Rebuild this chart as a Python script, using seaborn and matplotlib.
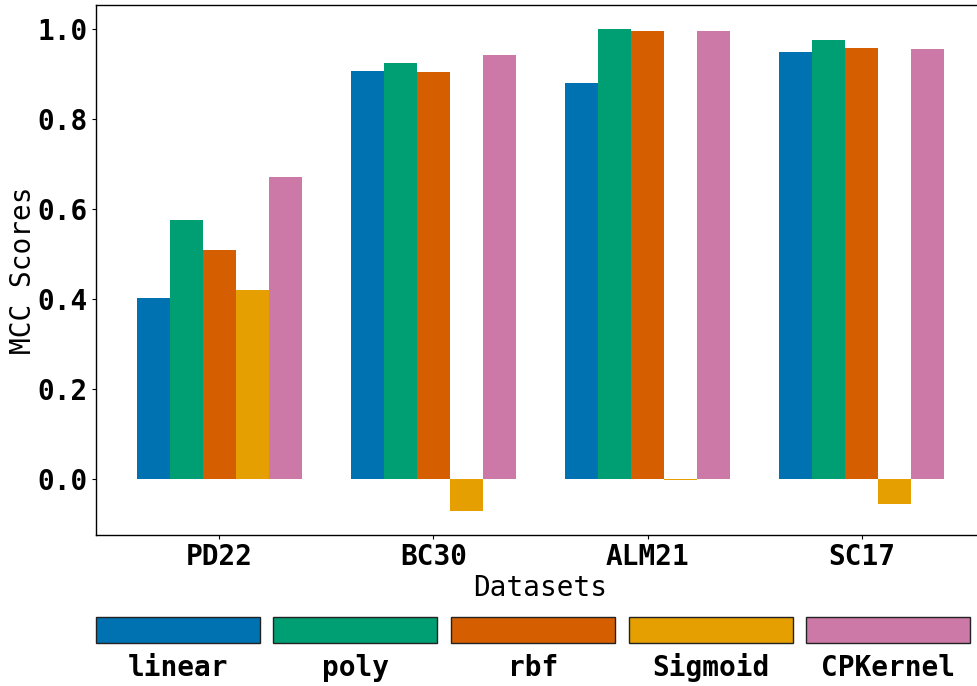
import matplotlib
matplotlib.use("Agg")
import matplotlib.pyplot as plt
from matplotlib.patches import Rectangle
import seaborn as sns
import pandas as pd

datasets = ["PD22", "BC30", "ALM21", "SC17"]
kernels = ["linear", "poly", "rbf", "Sigmoid", "CPKernel"]
linear = [0.402, 0.907, 0.880, 0.949]
poly = [0.576, 0.924, 1.000, 0.976]
rbf = [0.509, 0.904, 0.996, 0.958]
sigmoid = [0.420, -0.071, -0.003, -0.056]
cpkernel = [0.671, 0.942, 0.996, 0.956]
colors = ["#0072B2", "#009E73", "#D55E00", "#E69F00", "#CC79A7"]

series = [linear, poly, rbf, sigmoid, cpkernel]
rows = []
for k, vals in zip(kernels, series):
    for d, v in zip(datasets, vals):
        rows.append({"Datasets": d, "Kernel": k, "MCC": v})
df = pd.DataFrame(rows)

plt.rcParams["font.family"] = ["DejaVu Sans Mono", "DejaVu Sans"]

W, H = 977, 686
fig = plt.figure(figsize=(W / 100, H / 100), dpi=100)
ax = fig.add_axes([96 / W, (H - 535) / H, 889 / W, 530 / H])

sns.barplot(data=df, x="Datasets", y="MCC", hue="Kernel", order=datasets,
            hue_order=kernels, palette=colors, saturation=1, width=0.77,
            linewidth=0, edgecolor="none", errorbar=None, legend=False, ax=ax)

ax.set_xlim(-0.575, 3.575)
ax.set_ylim(-0.1244, 1.0533)
ax.set_yticks([0.0, 0.2, 0.4, 0.6, 0.8, 1.0])
ax.set_yticklabels(["0.0", "0.2", "0.4", "0.6", "0.8", "1.0"])
ax.tick_params(axis="both", labelsize=20, length=3, pad=3)
for lab in ax.get_xticklabels() + ax.get_yticklabels():
    lab.set_fontweight("bold")
ax.set_xlabel("Datasets", fontsize=20, labelpad=2)
ax.set_ylabel("MCC Scores", fontsize=20, labelpad=0)
for s in ax.spines.values():
    s.set_linewidth(1.0)
    s.set_color("black")

# legend below: colored boxes with labels underneath
lax = fig.add_axes([0, 0, 1, 1])
lax.set_xlim(0, W)
lax.set_ylim(H, 0)
lax.axis("off")
box_x = [96, 273, 451, 629, 806]
box_w = 164
for x0, c, k in zip(box_x, colors, kernels):
    lax.add_patch(Rectangle((x0, 617), box_w, 26, facecolor=c,
                            edgecolor="#222222", linewidth=1.0))
    lax.text(x0 + box_w / 2, 668, k, ha="center", va="center",
             fontsize=20, fontweight="bold")

fig.savefig("out.png", dpi=100)
